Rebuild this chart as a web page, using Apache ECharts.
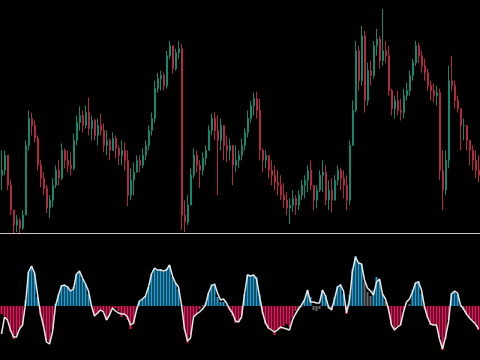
<!DOCTYPE html>
<html><head><meta charset="utf-8">
<script src="https://cdn.jsdelivr.net/npm/echarts@6/dist/echarts.min.js"></script>
<style>html,body{margin:0;padding:0;background:#000}#c{width:480px;height:360px}</style>
</head><body><div id="c"></div>
<script>
// price panel (close / high / low per bar; open = previous close)
const firstOpen = 58;
const closes = [63,78,48,23,8,13,5,18,88,115,108,95,68,55,45,25,33,48,63,55,83,73,68,65,93,111,118,108,121,105,113,98,108,103,88,93,83,95,85,78,83,73,38,53,61,73,68,78,88,103,115,145,155,158,148,178,188,165,181,185,18,11,28,58,78,68,63,75,83,103,115,103,93,108,88,83,88,68,73,78,88,101,115,128,135,123,83,73,78,63,58,51,48,38,33,25,28,35,28,38,48,53,63,48,33,43,58,61,33,43,33,53,63,55,48,33,88,123,183,153,198,133,163,158,188,195,173,183,178,143,125,133,123,121,138,143,158,171,188,178,168,161,148,143,138,141,63,43,73,153,148,133,125,108,108,93,83,73,63,58];
const highs  = [83,83,73,53,23,18,15,23,93,123,121,113,98,73,61,48,38,55,68,73,90,85,83,81,100,118,127,123,128,136,118,115,115,120,110,103,95,101,98,88,93,91,83,65,71,78,78,85,93,108,121,153,161,163,161,183,193,188,185,193,190,33,38,65,85,83,73,81,88,108,120,121,118,115,103,98,95,83,88,83,95,105,123,133,141,142,135,85,83,78,73,68,63,58,50,41,35,43,38,43,53,58,68,73,48,48,63,73,68,53,55,58,68,65,63,58,93,133,193,188,208,203,171,173,193,205,198,225,193,188,145,138,143,135,145,151,163,175,193,191,183,175,165,153,150,148,145,83,83,168,178,153,138,125,115,108,93,88,83,78];
const lows   = [43,58,43,18,0,1,0,3,18,83,98,91,63,46,38,20,15,26,45,48,53,65,61,58,63,88,103,101,105,98,93,93,88,98,81,78,73,83,75,68,68,63,27,33,38,61,61,65,73,83,98,111,141,143,143,145,175,160,163,175,3,1,8,33,55,61,45,58,68,83,98,93,38,83,73,71,73,48,61,65,73,83,96,111,118,115,73,61,65,55,48,43,38,33,25,18,9,21,18,23,33,35,41,43,23,25,41,41,28,23,21,33,48,43,35,23,28,88,121,143,148,121,128,148,155,178,165,168,171,138,118,115,118,113,115,133,138,153,168,171,161,153,143,133,131,128,53,23,38,65,143,125,121,83,93,83,68,63,55,51];

// oscillator panel
const hist = [-8,-10,-14,-26,-33,-29,-22,-19,6,34,40,33,9,-9,-21,-34,-36,-24,2,12,21,21,20,16,19,32,34,27,22,12,1,-8,-8,-5,-6,-14,-8,-3,-2,-5,-11,-8,-14,-23,-18,-4,5,7,10,19,32,37,36,37,34,37,41,29,23,17,1,-24,-37,-29,-11,-8,-3,1,3,13,22,22,9,4,4,1,-4,-10,-17,-16,-10,12,32,31,31,29,12,-8,-18,-23,-24,-29,-24,-23,-20,-18,-21,-12,-5,-4,-1,6,16,9,-4,-5,-3,16,11,-3,-4,9,20,22,12,-8,11,37,50,44,42,24,14,10,16,29,26,12,5,-4,-18,-24,-20,-19,-4,0,2,16,23,25,12,-3,-12,-19,-19,-19,-31,-44,-33,-14,13,14,12,-1,-4,-8,-12,-14,-17,-24];
const signal = [-28,-11,-14,-24,-31,-31,-23,-19,2,34,40,33,12,-8,-20,-36,-38,-26,0,11,20,21,19,15,17,32,35,28,22,15,0,-10,-7,-4,-6,-14,-9,-2,-5,-7,-8,-8,-11,-19,-17,-4,5,7,10,19,32,38,36,36,35,36,41,30,23,19,1,-23,-35,-32,-11,-8,-6,-3,1,13,20,22,13,6,7,3,-3,-7,-15,-16,-11,12,31,30,31,27,10,-6,-17,-22,-24,-26,-24,-21,-22,-23,-24,-14,-8,-3,1,6,16,4,4,3,3,16,10,-1,-4,7,19,21,15,-7,6,35,49,43,42,26,18,15,11,24,27,12,7,-3,-19,-24,-21,-19,-6,4,7,14,23,24,16,-1,-11,-18,-19,-19,-33,-43,-31,-16,12,15,13,1,-3,-8,-12,-15,-18,-23];
const neutralIdx = [67,99,100,104,105,106,109,110,121,122,123,128,135,136,153,154];

const cats = closes.map((_, i) => i);
const ohlc = closes.map((c, i) => {
  const o = i === 0 ? firstOpen : closes[i - 1];
  const h = Math.max(highs[i], o, c);
  const l = Math.min(lows[i], o, c);
  return [o, c, l, h];
});
const histData = hist.map((v, i) => ({
  value: v,
  itemStyle: { color: neutralIdx.includes(i) ? '#6a6a6a' : (v >= 0 ? '#1f9fd3' : '#e3175d') }
}));

const chart = echarts.init(document.getElementById('c'), null, { renderer: 'canvas' });
chart.setOption({
  backgroundColor: '#000000',
  animation: false,
  grid: [
    { left: 0, right: 0, top: 0, height: 234 },
    { left: 0, right: 0, top: 236, height: 124 }
  ],
  xAxis: [
    { type: 'category', gridIndex: 0, data: cats, boundaryGap: true,
      axisLine: { show: true, lineStyle: { color: '#c8c8c8', width: 1 } },
      axisTick: { show: false }, axisLabel: { show: false }, splitLine: { show: false } },
    { type: 'category', gridIndex: 1, data: cats, boundaryGap: true,
      axisLine: { show: false }, axisTick: { show: false }, axisLabel: { show: false }, splitLine: { show: false } }
  ],
  yAxis: [
    { type: 'value', gridIndex: 0, min: -1, max: 234, show: false, splitLine: { show: false } },
    { type: 'value', gridIndex: 1, min: -54, max: 70, show: false, splitLine: { show: false } }
  ],
  series: [
    { type: 'candlestick', xAxisIndex: 0, yAxisIndex: 0, data: ohlc, barWidth: 1.5,
      itemStyle: { color: '#12896f', color0: '#b3293f', borderColor: '#12896f', borderColor0: '#b3293f', borderWidth: 1 } },
    { type: 'bar', xAxisIndex: 1, yAxisIndex: 1, data: histData, barWidth: 2 },
    { type: 'line', xAxisIndex: 1, yAxisIndex: 1, data: signal, symbol: 'none',
      lineStyle: { color: '#e6e6e6', width: 1.5 }, z: 5 }
  ]
});
</script>
</body></html>
